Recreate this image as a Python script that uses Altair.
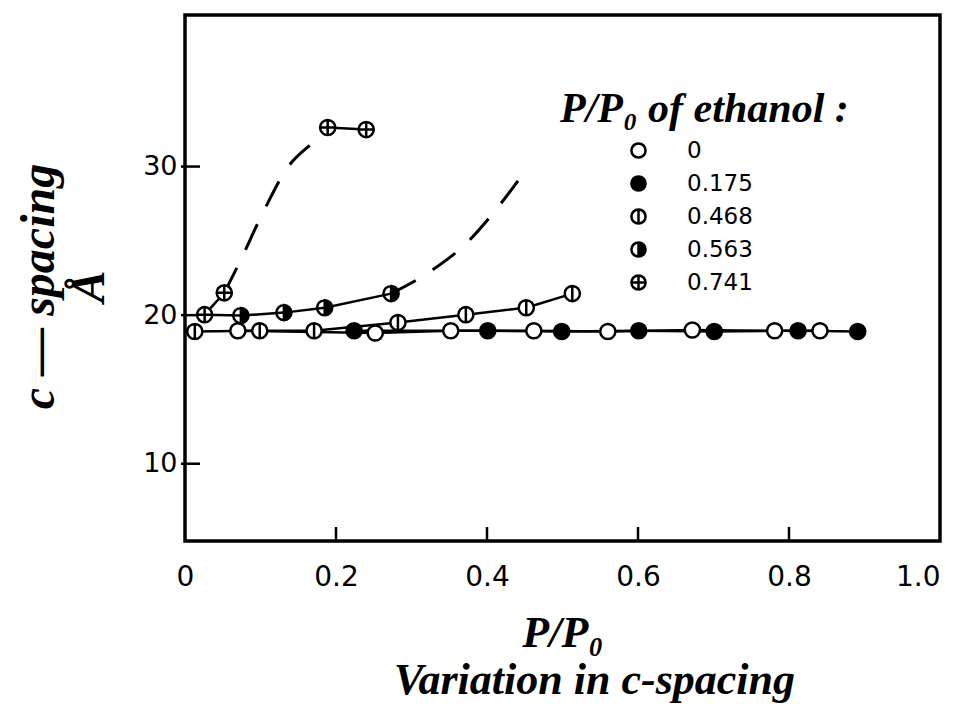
import altair as alt
import pandas as pd

# ---- data ----
series_names = ["0", "0.175", "0.468", "0.563", "0.741"]

x_0 = [0.070, 0.252, 0.352, 0.462, 0.560, 0.672, 0.781, 0.841]
y_0 = [18.95, 18.8, 18.95, 18.95, 18.9, 19.0, 18.95, 18.95]

x_175 = [0.224, 0.401, 0.499, 0.601, 0.701, 0.812, 0.891]
y_175 = [18.95, 18.95, 18.9, 18.95, 18.9, 18.95, 18.9]

x_468 = [0.013, 0.099, 0.171, 0.282, 0.372, 0.452, 0.513]
y_468 = [18.9, 18.95, 18.95, 19.5, 20.03, 20.5, 21.45]

x_563 = [0.074, 0.131, 0.185, 0.273]
y_563 = [19.97, 20.17, 20.5, 21.45]

x_741 = [0.026, 0.052, 0.189, 0.240]
y_741 = [20.03, 21.5, 32.63, 32.49]

# dashed guide curves
guide1_x = [0.052, 0.0715, 0.102, 0.135, 0.1735, 0.189]
guide1_y = [21.5, 23.47, 26.77, 29.87, 31.82, 32.63]
guide2_x = [0.273, 0.3245, 0.3735, 0.413, 0.448]
guide2_y = [21.45, 22.93, 24.88, 27.17, 29.53]

x_ticks = [0, 0.2, 0.4, 0.6, 0.8, 1.0]
y_ticks = [10, 20, 30]

legend_title = "P/P\u2080 of ethanol :"
x_title = "P/P\u2080"
y_title = ["c \u2014 spacing", "\u00c5"]
caption = "Variation in c-spacing"

# ---- tables ----
series_x = [x_0, x_175, x_468, x_563, x_741]
series_y = [y_0, y_175, y_468, y_563, y_741]

pts = pd.DataFrame(
    [{"series": s, "x": xv, "y": yv}
     for s, xs, ys in zip(series_names, series_x, series_y)
     for xv, yv in zip(xs, ys)]
)

def seg(name, xs, ys):
    return [{"line": name, "o": i, "x": xv, "y": yv} for i, (xv, yv) in enumerate(zip(xs, ys))]

solid_rows = []
solid_rows += seg("0", x_0, y_0)
solid_rows += seg("0.175", x_175, y_175)
solid_rows += seg("0.468", x_468, y_468)
solid_rows += seg("0.563", [x_741[0]] + x_563, [y_741[0]] + y_563)
solid_rows += seg("0.741a", x_741[0:2], y_741[0:2])
solid_rows += seg("0.741b", x_741[2:4], y_741[2:4])
solid = pd.DataFrame(solid_rows)

dashed = pd.DataFrame(seg("g1", guide1_x, guide1_y) + seg("g2", guide2_x, guide2_y))

xt = pd.DataFrame({"x": x_ticks[1:-1]})
yt = pd.DataFrame({"y": y_ticks})

# ---- marker shapes ----
circ = "M-1,0A1,1 0 1,1 1,0A1,1 0 1,1 -1,0Z"
half = ("M0,-1A1,1 0 0,1 0,1Z"
        "M0,-1A1,1 0 0,0 -1,0A1,1 0 0,0 0,1A1,1 0 0,1 -1,0A1,1 0 0,1 0,-1")
shape_range = [
    circ,
    circ,
    circ + "M0,-1L0,1",
    half,
    circ + "M0,-1L0,1M-1,0L1,0",
]
fill_range = ["white", "black", "white", "black", "white"]
stroke_range = ["black"] * 5

SCRIPT = "Liberation Serif"
SANS = "DejaVu Sans"

xscale = alt.Scale(domain=[0, 1.0], nice=False, zero=False)
yscale = alt.Scale(domain=[4.8, 40.2], nice=False, zero=False)

xaxis = alt.Axis(
    values=x_ticks, ticks=False, domain=False, grid=False,
    labelExpr="datum.value == 0 ? '0' : format(datum.value, '.1f')",
    labelFont=SANS, labelFontSize=28, labelColor="black", labelPadding=22,
    labelAlign={"condition": {"test": "datum.value == 1", "value": "right"}, "value": "center"},
    title=x_title, titleFont=SCRIPT, titleFontStyle="italic", titleFontWeight="bold",
    titleFontSize=44, titleColor="black", titleY=105, titleBaseline="alphabetic",
)
yaxis = alt.Axis(
    values=y_ticks, ticks=False, domain=False, grid=False,
    labelFont=SANS, labelFontSize=27, labelColor="black", labelPadding=8,
    title=y_title, titleFont=SCRIPT, titleFontStyle="italic", titleFontWeight="bold",
    titleFontSize=48, titleColor="black", titleAngle=270, titleLineHeight=50,
    titleX=-146, titleY=271, titleAlign="center", titleBaseline="middle",
)

X = alt.X("x:Q", scale=xscale, axis=xaxis)
Y = alt.Y("y:Q", scale=yscale, axis=yaxis)

leg = alt.Legend(
    orient="none", legendX=442, legendY=124, title=None, padding=0,
    labelFont=SANS, labelFontSize=23, labelColor="black", labelOffset=37,
    symbolSize=200, symbolStrokeWidth=2.5, symbolStrokeColor="black",
    rowPadding=8,
)

lines = alt.Chart(solid).mark_line(color="black", strokeWidth=2.5).encode(
    x=X, y=Y, detail="line:N", order="o:Q"
)
dash = alt.Chart(dashed).mark_line(
    color="black", strokeWidth=3, strokeDash=[28, 20], interpolate="monotone"
).encode(x=X, y=Y, detail="line:N", order="o:Q")

xtick_layer = alt.Chart(xt).mark_rule(color="black", strokeWidth=2.5).encode(
    x=X, y=alt.value(526), y2=alt.value(512)
)
ytick_layer = alt.Chart(yt).mark_rule(color="black", strokeWidth=2.5).encode(
    y=Y, x=alt.value(-4), x2=alt.value(15)
)

points = alt.Chart(pts).mark_point(
    filled=True, strokeWidth=2.5, opacity=1, size=230
).encode(
    x=X, y=Y,
    shape=alt.Shape("series:N", scale=alt.Scale(domain=series_names, range=shape_range), legend=leg),
    fill=alt.Fill("series:N", scale=alt.Scale(domain=series_names, range=fill_range), legend=leg),
    stroke=alt.Stroke("series:N", scale=alt.Scale(domain=series_names, range=stroke_range), legend=leg),
)

leg_title = alt.Chart(pd.DataFrame({"t": [legend_title]})).mark_text(
    font=SCRIPT, fontStyle="italic", fontWeight="bold", fontSize=42,
    align="left", baseline="alphabetic", color="black",
).encode(text="t:N", x=alt.value(375), y=alt.value(107))

chart = alt.layer(
    xtick_layer, ytick_layer, dash, lines, points, leg_title
).properties(
    width=755, height=526,
    padding={"left": 177, "top": 7, "right": 13, "bottom": 176},
    autosize=alt.AutoSizeParams(type="none"),
    title=alt.TitleParams(
        text=caption, orient="bottom", anchor="middle", dx=32, offset=4,
        font=SCRIPT, fontStyle="italic", fontWeight="bold", fontSize=44, color="black",
    ),
).configure_view(stroke="black", strokeWidth=3.5)

chart.save("out.html", embed_options={"renderer": "svg", "actions": False})
